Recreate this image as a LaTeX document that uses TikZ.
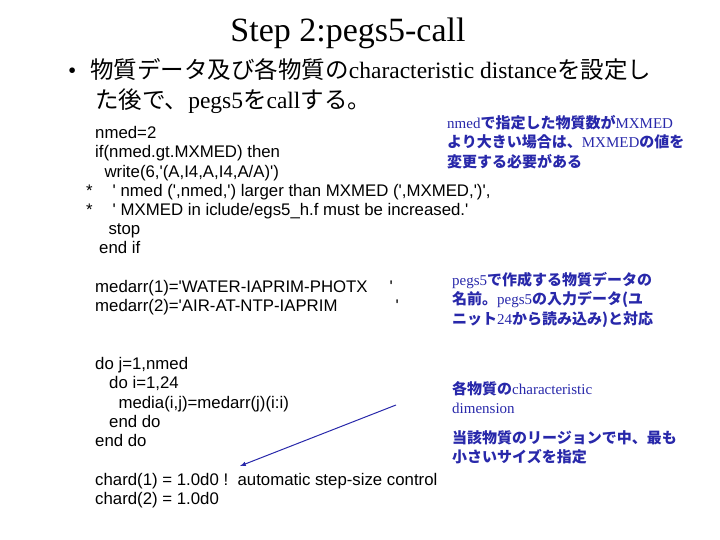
\documentclass[tikz,border=0pt]{standalone}
\usepackage{fontspec}
\setmainfont{Liberation Serif}
\newfontfamily\codefont{Liberation Sans}
\newfontfamily\jp{Noto Sans CJK JP}
\definecolor{annblue}{RGB}{40,40,170}
\begin{document}
\begin{tikzpicture}[x=1pt,y=-1pt,
  code/.style={anchor=north west,align=left,inner sep=0pt,font=\codefont\fontsize{16.8}{19.4}\selectfont},
  ann/.style={anchor=north west,align=left,inner sep=0pt,text=annblue,font=\fontsize{15}{19.5}\selectfont}]
\useasboundingbox (0,0) rectangle (720,540);
\node[anchor=center,font=\fontsize{34}{40}\selectfont] (title) at (348,33) {Step 2:pegs5-call};
\node[anchor=north west,align=left,inner sep=0pt,font=\fontsize{23.5}{30}\selectfont] (bul) at (68,58)
 {•\hspace{14pt}{\jp 物質データ及び各物質の}characteristic distance{\jp を設定し}\\
  \hspace{27pt}{\jp た後で、}pegs5{\jp を}call{\jp する。}};
\node[code] (c1) at (95,126) {nmed=2\\ if(nmed.gt.MXMED) then\\ \ \ write(6,'(A,I4,A,I4,A/A)')};
\node[code] (c2) at (86,184) {*\hspace{20pt}' nmed (',nmed,') larger than MXMED (',MXMED,')',\\
 *\hspace{20pt}' MXMED in iclude/egs5\_h.f must be increased.'};
\node[code] (c3) at (99,223) {\ \ stop\\ end if};
\node[code] (c4) at (95,280) {medarr(1)='WATER-IAPRIM-PHOTX\hspace{22pt}'\\ medarr(2)='AIR-AT-NTP-IAPRIM\hspace{58pt}'};
\node[code] (c5) at (95,357) {do j=1,nmed\\ \ \ \ do i=1,24\\ \ \ \ \ \ media(i,j)=medarr(j)(i:i)\\ \ \ \ end do\\ end do};
\node[code] (c6) at (95,473) {chard(1) = 1.0d0 !\ \ automatic step-size control\\ chard(2) = 1.0d0};
\node[ann] (a1) at (447,115) {nmed{\jp\bfseries で指定した物質数が}MXMED\\ {\jp\bfseries より大きい場合は、}MXMED{\jp\bfseries の値を}\\ {\jp\bfseries 変更する必要がある}};
\node[ann] (a2) at (452,272) {pegs5{\jp\bfseries で作成する物質データの}\\ {\jp\bfseries 名前。}pegs5{\jp\bfseries の入力データ(ユ}\\ {\jp\bfseries ニット}24{\jp\bfseries から読み込み)と対応}};
\node[ann] (a3) at (452,381) {{\jp\bfseries 各物質の}characteristic\\ dimension};
\node[ann] (a4) at (452,430) {{\jp\bfseries 当該物質のリージョンで中、最も}\\ {\jp\bfseries 小さいサイズを指定}};
\coordinate (s) at (396,405);
\coordinate (e) at (240,466);
\draw[annblue,line width=1pt,-latex] (s) -- (e);
\end{tikzpicture}
\end{document}
